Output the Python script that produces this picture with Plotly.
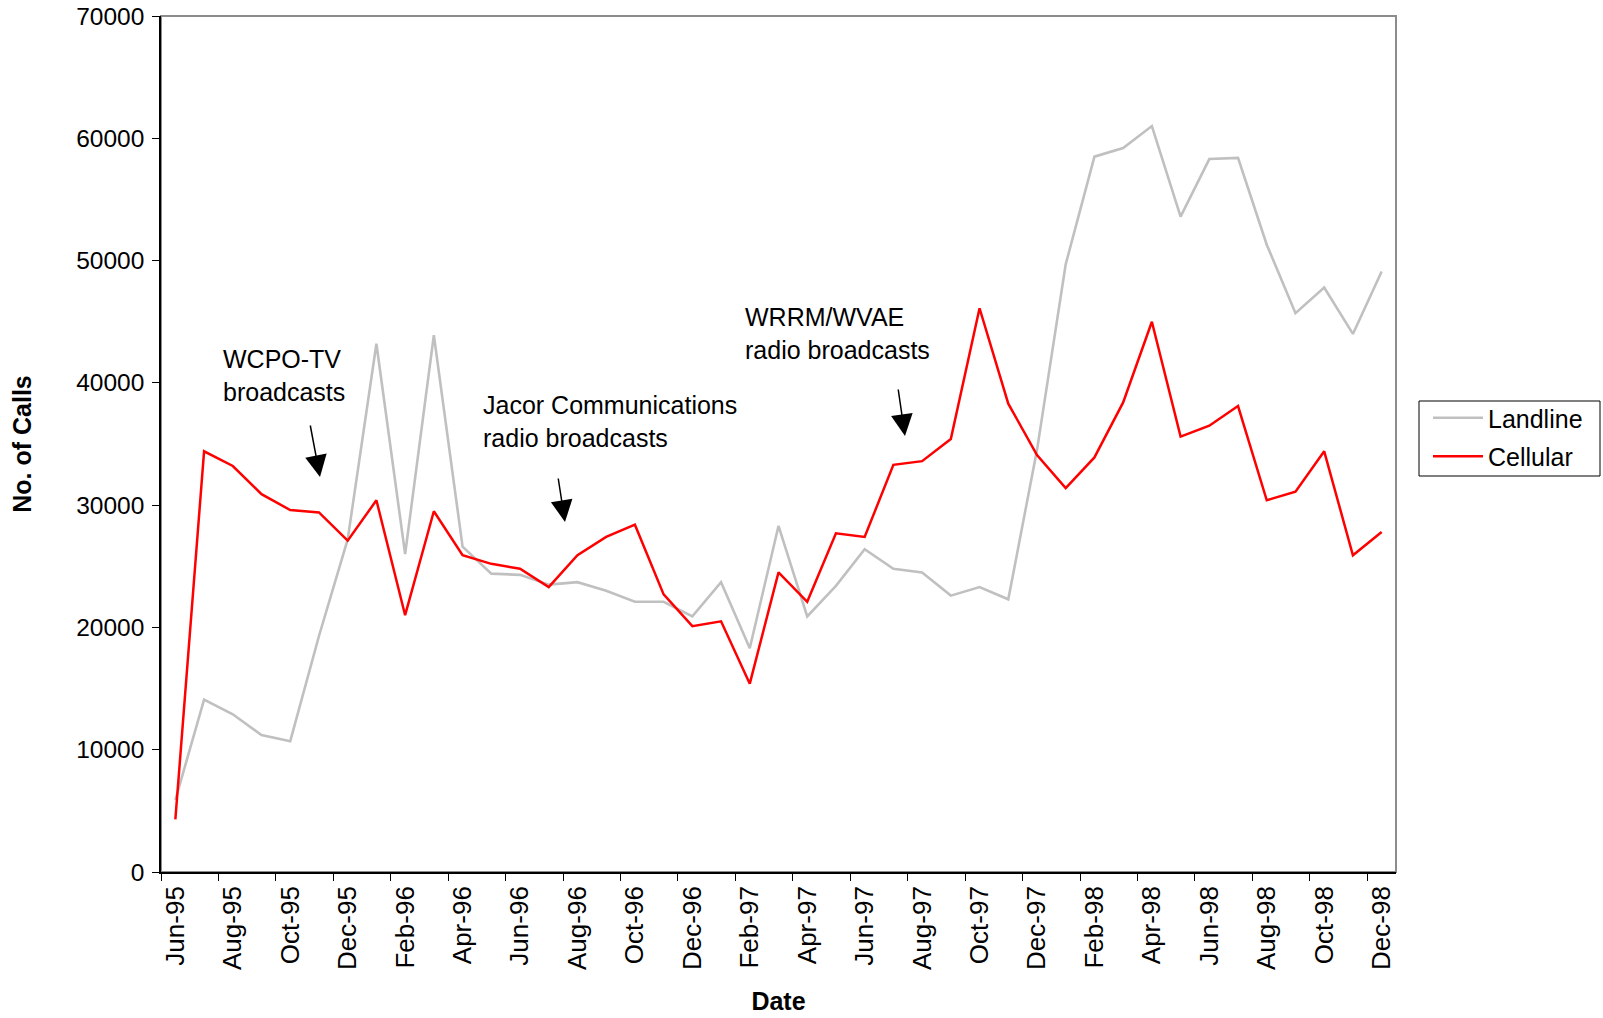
import plotly.graph_objects as go

months = ["Jun-95", "Jul-95", "Aug-95", "Sep-95", "Oct-95", "Nov-95", "Dec-95",
          "Jan-96", "Feb-96", "Mar-96", "Apr-96", "May-96", "Jun-96", "Jul-96",
          "Aug-96", "Sep-96", "Oct-96", "Nov-96", "Dec-96",
          "Jan-97", "Feb-97", "Mar-97", "Apr-97", "May-97", "Jun-97", "Jul-97",
          "Aug-97", "Sep-97", "Oct-97", "Nov-97", "Dec-97",
          "Jan-98", "Feb-98", "Mar-98", "Apr-98", "May-98", "Jun-98", "Jul-98",
          "Aug-98", "Sep-98", "Oct-98", "Nov-98", "Dec-98"]

landline = [5900, 14100, 12900, 11200, 10700, 19300, 27200, 43200, 26000, 43900,
            26600, 24400, 24300, 23500, 23700, 23000, 22100, 22100, 20900,
            23700, 18300, 28300, 20900, 23400, 26400, 24800, 24500, 22600,
            23300, 22300, 34500, 49700, 58500, 59200, 61000, 53600, 58300,
            58400, 51300, 45700, 47800, 44000, 49100]

cellular = [4300, 34400, 33200, 30900, 29600, 29400, 27100, 30400, 21000, 29500,
            25900, 25200, 24800, 23300, 25900, 27400, 28400, 22700, 20100,
            20500, 15400, 24500, 22100, 27700, 27400, 33300, 33600, 35400,
            46100, 38300, 34100, 31400, 33900, 38400, 45000, 35600, 36500,
            38100, 30400, 31100, 34400, 25900, 27800]

FONT = "Liberation Sans, Arial, sans-serif"
W, H = 1603, 1018
# plot area in window pixels
PL, PR, PT, PB = 161, 1396, 16, 872
L, T, R, B = PL, PT, W - PR, H - PB
PW, PH = PR - PL, PB - PT


def px(xp):
    return (xp - PL) / PW


def py(yp):
    return (PB - yp) / PH


fig = go.Figure()
fig.add_trace(go.Scatter(x=months, y=landline, mode="lines", name="Landline",
                         legendgroup="a",
                         line=dict(color="#C0C0C0", width=2.6)))
fig.add_trace(go.Scatter(x=months, y=cellular, mode="lines", name="Cellular",
                         legendgroup="b",
                         line=dict(color="#FF0000", width=2.5)))

# plot border (top/right grey)
fig.add_shape(type="rect", xref="paper", yref="paper", x0=0, x1=1, y0=0, y1=1,
              line=dict(color="#8C8C8C", width=2), layer="below")
# legend frame
fig.add_shape(type="rect", xref="paper", yref="paper",
              x0=px(1419), x1=px(1600), y0=py(476), y1=py(401),
              line=dict(color="black", width=1), layer="above")

annots = [
    ("WCPO-TV<br>broadcasts", 221, 343),
    ("Jacor Communications<br>radio broadcasts", 481, 389),
    ("WRRM/WVAE<br>radio broadcasts", 743, 301),
]
for txt, x, y in annots:
    fig.add_annotation(text=txt, xref="paper", yref="paper", x=px(x), y=py(y),
                       xanchor="left", yanchor="top", showarrow=False, align="left",
                       font=dict(family=FONT, size=25, color="black"))

arrows = [((310, 424), (320, 477)), ((558, 477), (565, 522)), ((898, 388), (905, 436))]
for (tx, ty), (hx, hy) in arrows:
    fig.add_annotation(text="", xref="paper", yref="paper", x=px(hx), y=py(hy),
                       ax=tx - hx, ay=ty - hy, showarrow=True, arrowhead=2,
                       arrowsize=2.9, arrowwidth=1.5, arrowcolor="black")

fig.update_layout(
    width=W, height=H,
    margin=dict(l=L, r=R, t=T, b=B, autoexpand=False),
    paper_bgcolor="white", plot_bgcolor="white",
    font=dict(family=FONT, size=25, color="black"),
    showlegend=True,
    legend=dict(x=px(1428), y=py(395), xanchor="left", yanchor="top",
                borderwidth=0, bgcolor="rgba(0,0,0,0)",
                font=dict(family=FONT, size=25, color="black"),
                itemwidth=50, traceorder="grouped", tracegroupgap=3),
    xaxis=dict(type="category", range=[-0.5, len(months) - 0.5], automargin=False,
               tickmode="linear", tick0=0, dtick=2, tickson="boundaries",
               tickangle=-90, ticks="outside", ticklen=7, tickcolor="black",
               tickwidth=1, showline=True, linecolor="black", linewidth=1.5,
               showgrid=False, zeroline=False, ticklabelstandoff=2,
               tickfont=dict(family=FONT, size=26, color="black"),
               title=dict(text="<b>Date</b>", standoff=24,
                          font=dict(family=FONT, size=25, color="black"))),
    yaxis=dict(range=[0, 70000], tickmode="linear", tick0=0, dtick=10000,
               automargin=False, ticklabeloverflow="allow", ticklabelstandoff=3,
               tickformat="d", ticks="outside", ticklen=7, tickcolor="black",
               showline=True, linecolor="black", linewidth=1.5,
               showgrid=False, zeroline=False,
               tickfont=dict(family=FONT, size=24.5, color="black"),
               title=dict(text="<b>No. of Calls</b>", standoff=37,
                          font=dict(family=FONT, size=25, color="black"))),
)

fig.write_html("out.html", config={"displayModeBar": False},
               post_script="document.body.style.margin='0';")
